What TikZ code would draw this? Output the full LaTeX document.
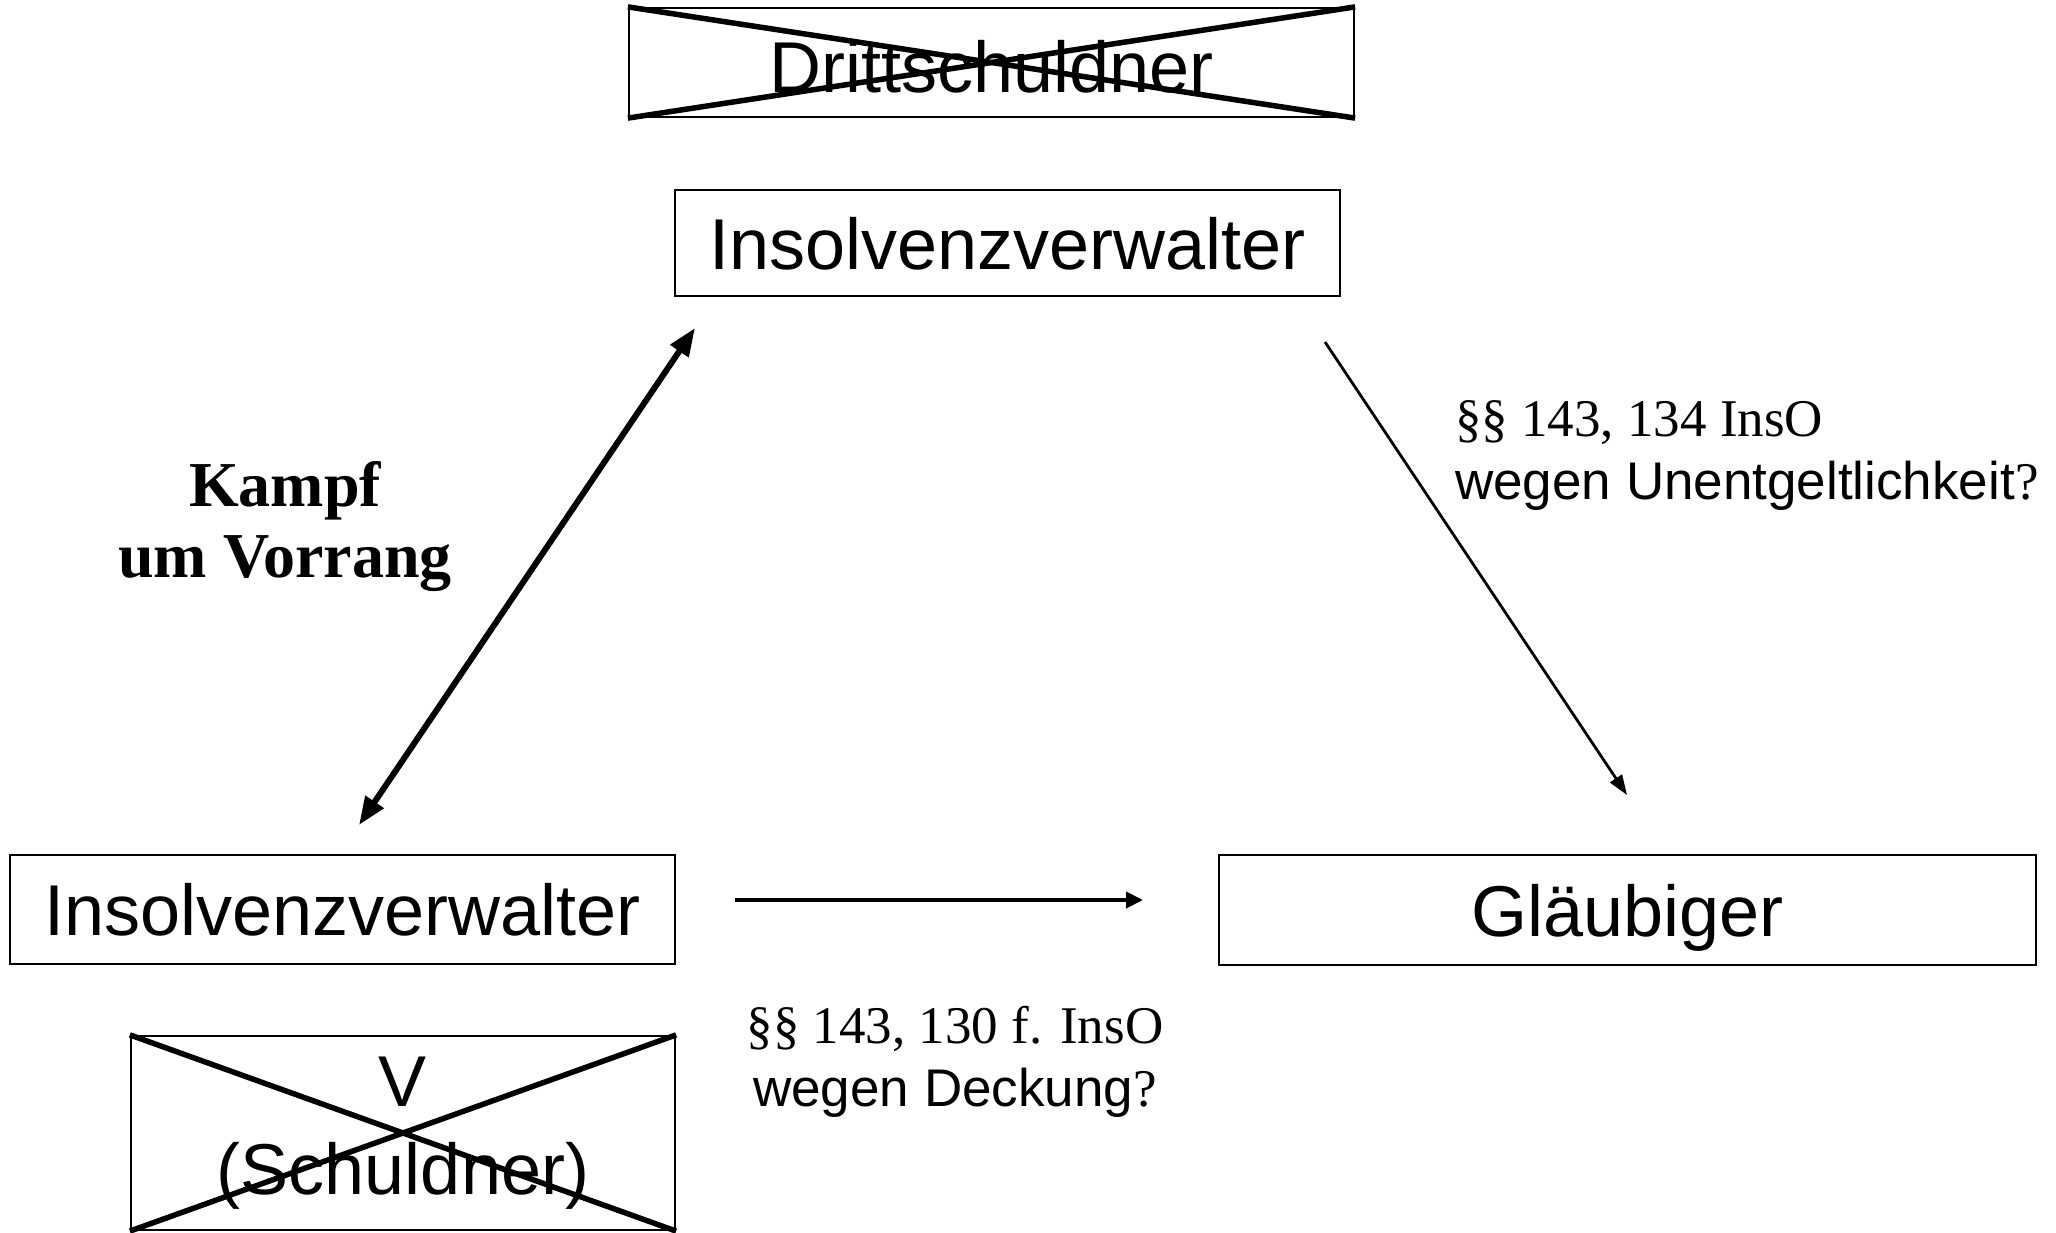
\documentclass[tikz,border=0pt]{standalone}
\usepackage{fontspec}
\setmainfont{Liberation Serif}
\setsansfont{Liberation Sans}
\usetikzlibrary{arrows.meta}

\begin{document}
\begin{tikzpicture}[x=1pt,y=-1pt,
  box/.style={draw, line width=2.2pt, inner sep=0pt,
    font=\sffamily\fontsize{72}{88}\selectfont},
  oneline/.style={text depth=0pt},
  struck/.style={line width=5.5pt},
  law/.style={inner sep=0pt, font=\fontsize{53}{63}\selectfont},
  bothways/.style={line width=6pt,
    {Triangle[length=28pt,width=21pt]}-{Triangle[length=28pt,width=21pt]}},
  thinway/.style={line width=2.8pt, -{Triangle[length=20pt,width=14pt]}},
  midway/.style={line width=4pt, -{Triangle[length=17pt,width=16pt]}}]

\useasboundingbox (0,0) rectangle (2056,1233);

% parties
\node[box, oneline, text height=61pt, minimum width=725pt, minimum height=109pt] (dritt) at (991.5,62.5) {Drittschuldner};
\node[box, oneline, minimum width=665pt, minimum height=106pt] (ivtop) at (1007.5,243) {Insolvenzverwalter};
\node[box, oneline, minimum width=665pt, minimum height=109pt] (ivleft) at (342.5,909.5) {Insolvenzverwalter};
\node[box, oneline, minimum width=817pt, minimum height=110pt] (glaeub) at (1627.5,910) {Gläubiger};
\node[box, align=center, minimum width=544pt, minimum height=194pt] (schuldner) at (403,1133) {V\\(Schuldner)};

% crossed-out parties
\draw[struck] (dritt.north west) -- (dritt.south east);
\draw[struck] (dritt.south west) -- (dritt.north east);
\draw[struck] (schuldner.north west) -- (schuldner.south east);
\draw[struck] (schuldner.south west) -- (schuldner.north east);

% connector ends
\coordinate (kampfLo) at (359,825);
\coordinate (kampfHi) at (695,328);
\coordinate (ugStart) at (1325,342);
\coordinate (ugEnd) at (1627,795);
\coordinate (dkStart) at (735,900);
\coordinate (dkEnd) at (1143,900);

\draw[bothways] (kampfLo) -- (kampfHi);
\draw[thinway] (ugStart) -- (ugEnd);
\draw[midway] (dkStart) -- (dkEnd);

% labels
\node[inner sep=0pt, align=center, font=\bfseries\fontsize{64}{71}\selectfont] (kampf) at (285,527) {Kampf\\um Vorrang};
\node[law, align=left, anchor=west] (unentg) at (1455,456) {§§ 143, 134 InsO\\{\sffamily wegen Unentgeltlichkeit}?};
\node[law, align=center] (deckung) at (955,1062) {§§ 143, 130 f. InsO\\{\sffamily wegen Deckung}?};

\end{tikzpicture}
\end{document}
